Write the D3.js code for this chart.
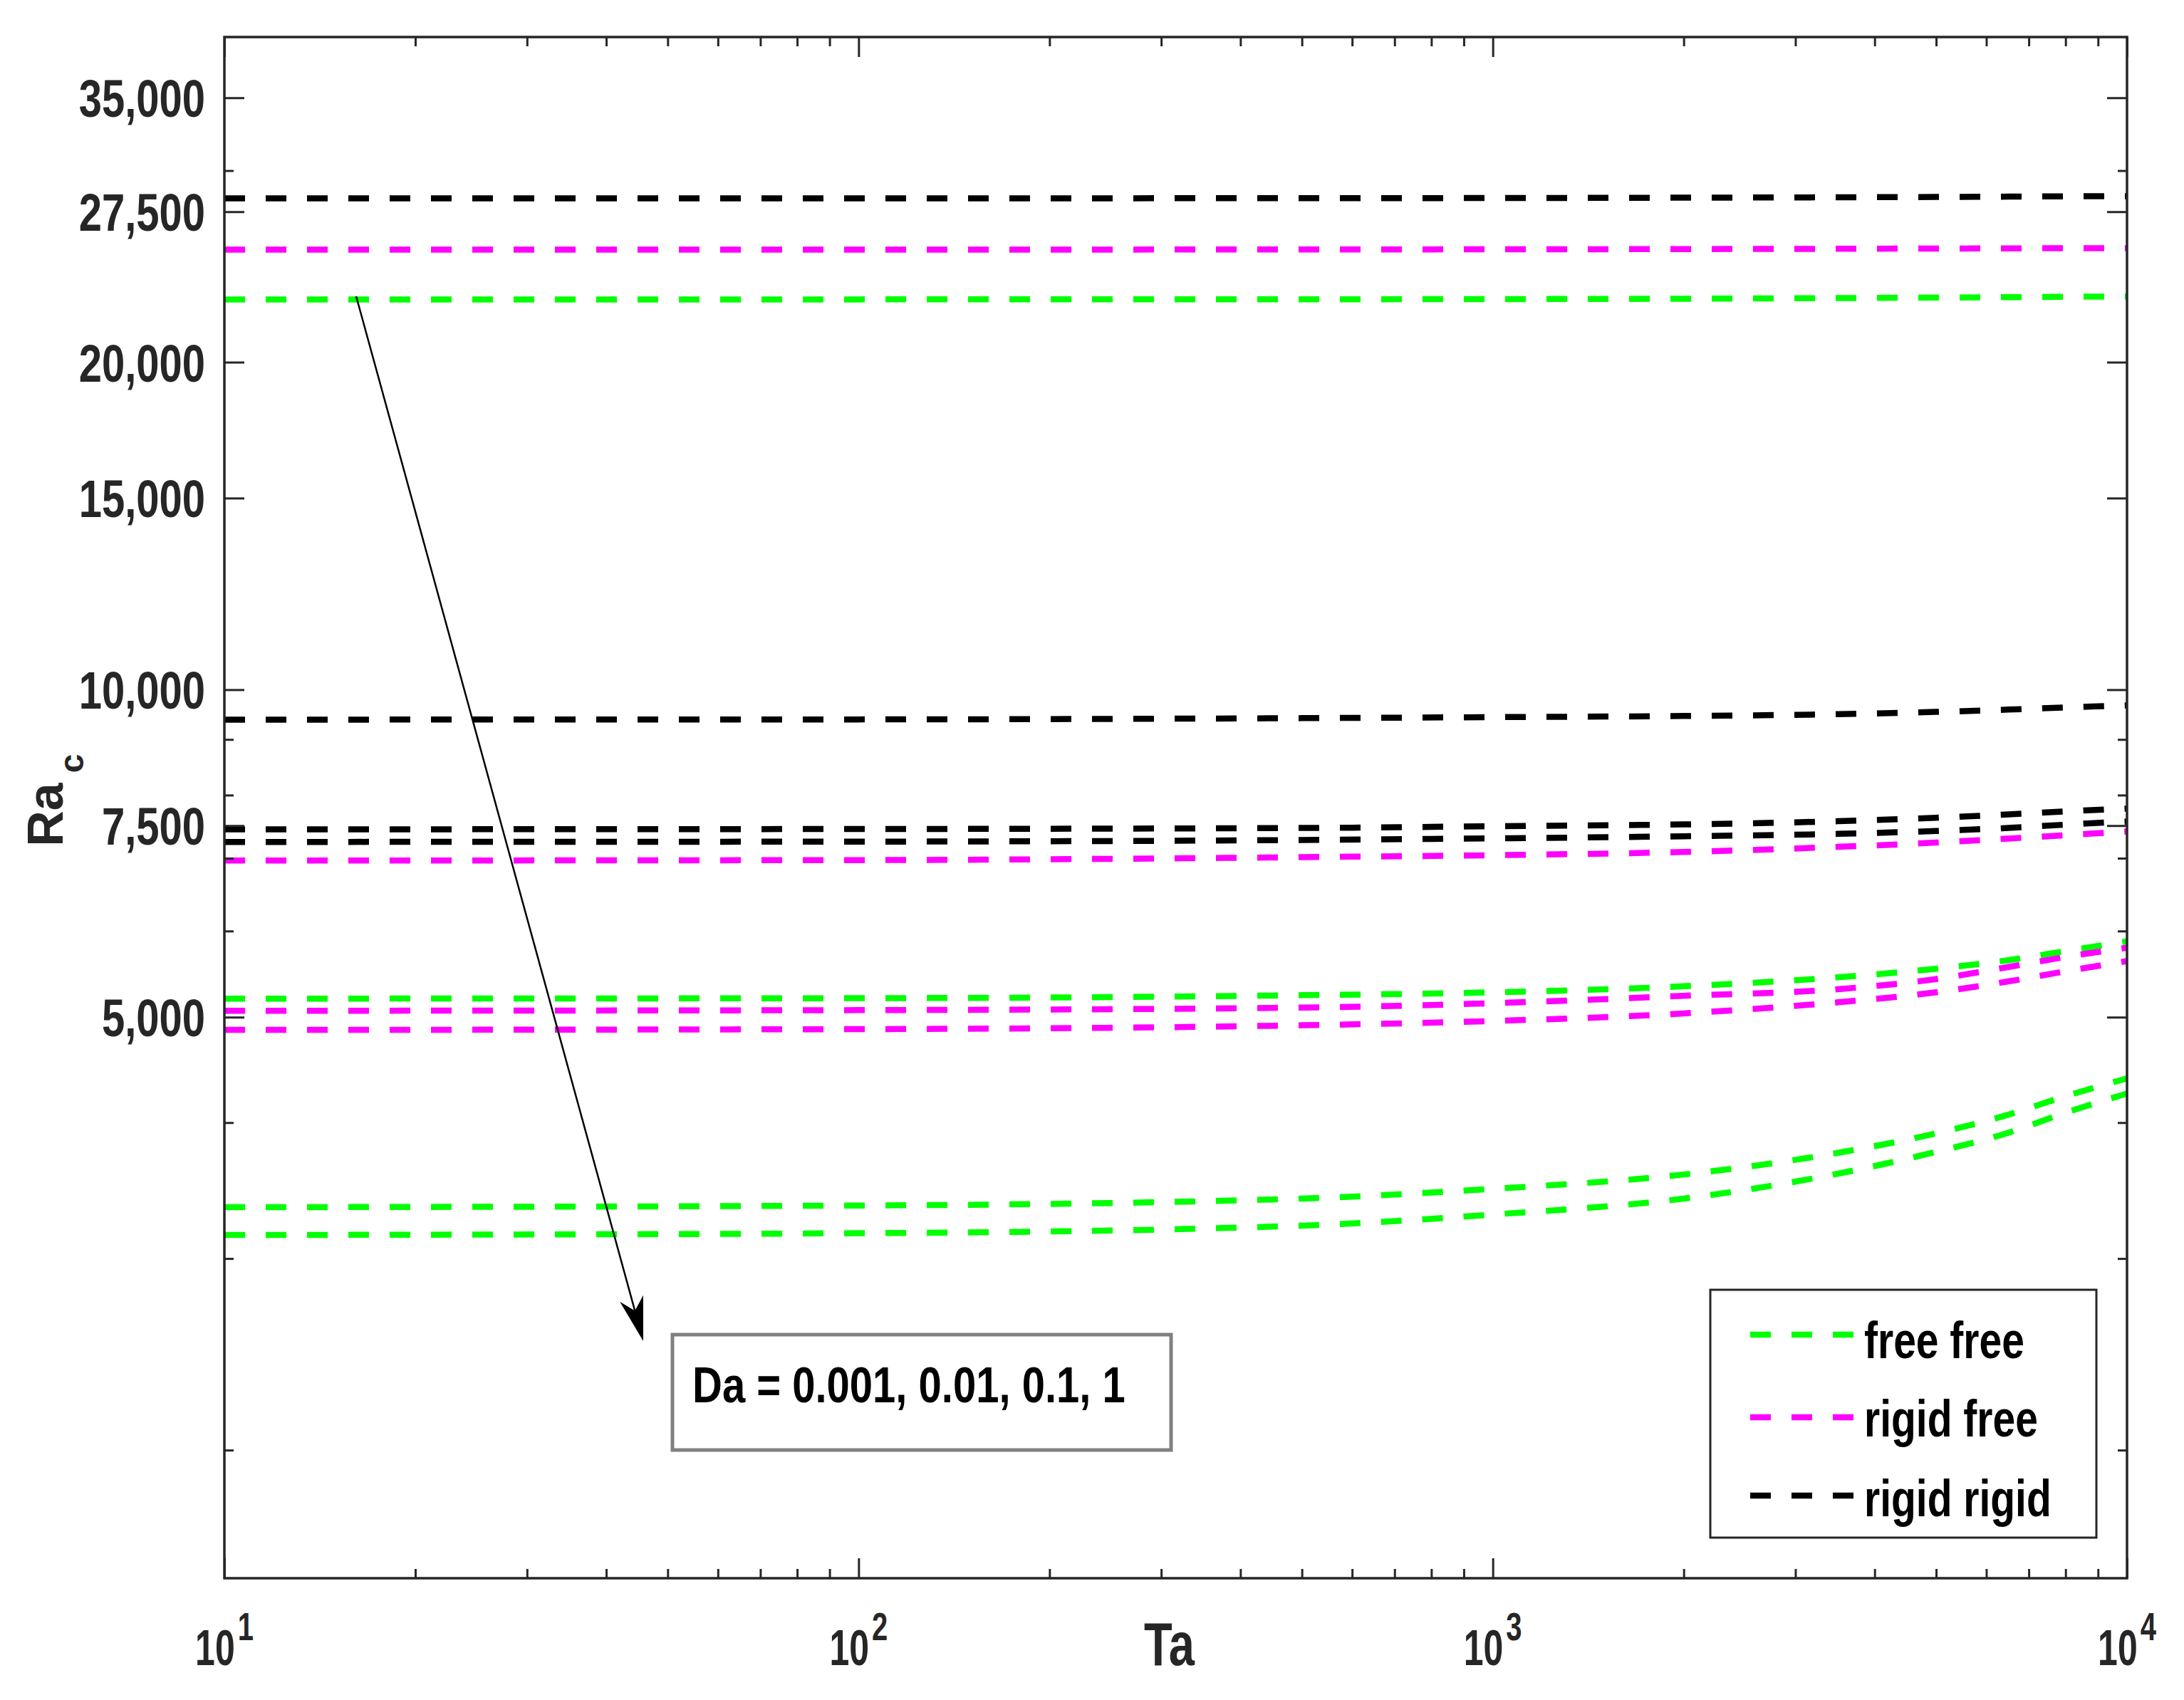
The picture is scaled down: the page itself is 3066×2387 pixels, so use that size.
<!DOCTYPE html>
<html><head><meta charset="utf-8">
<script src="https://cdn.jsdelivr.net/npm/d3@7"></script>
<style>html,body{margin:0;padding:0;background:#fff;} svg{display:block}</style>
</head><body>
<svg id="chart" width="3066" height="2387"></svg>
<script>
// ---------- data ----------
const taValues = [10, 100, 500, 1000, 2000, 3500, 5000, 6500, 8000, 10000];
const daValues = ["0.001", "0.01", "0.1", "1"];
// free free
const ffDa0001 = [22840, 22842, 22848, 22856, 22875, 22905, 22930, 22950, 22968, 22980];
const ffDa001  = [5200, 5205, 5238, 5270, 5338, 5440, 5540, 5641, 5750, 5870];
const ffDa01   = [3344, 3356, 3406, 3477, 3584, 3752, 3910, 4068, 4230, 4392];
const ffDa1    = [3153, 3165, 3216, 3293, 3406, 3590, 3760, 3915, 4085, 4254];
// rigid free
const rfDa0001 = [25380, 25381, 25388, 25396, 25408, 25425, 25438, 25448, 25455, 25460];
const rfDa001  = [6965, 6972, 7015, 7045, 7093, 7170, 7235, 7297, 7350, 7408];
const rfDa01   = [5068, 5075, 5103, 5150, 5231, 5305, 5420, 5560, 5680, 5792];
const rfDa1    = [4867, 4875, 4915, 4960, 5040, 5160, 5270, 5393, 5510, 5630];
// rigid rigid
const rrDa0001 = [28290, 28291, 28298, 28308, 28328, 28352, 28372, 28392, 28408, 28420];
const rrDa001  = [9386, 9390, 9415, 9435, 9458, 9495, 9540, 9587, 9630, 9674];
const rrDa01   = [7441, 7446, 7462, 7490, 7519, 7570, 7625, 7680, 7730, 7774];
const rrDa1    = [7245, 7250, 7275, 7300, 7332, 7370, 7415, 7463, 7515, 7565];

const boundaryNames = ["free free", "rigid free", "rigid rigid"];
const boundaryColors = ["#00ff00", "#ff00ff", "#000000"];
const yTickValues = [5000, 7500, 10000, 15000, 20000, 27500, 35000];
const yMinorTicks = [2000, 3000, 4000, 6000, 7000, 8000, 9000, 30000];
const xTickValues = [10, 100, 1000, 10000];
const xTickExponents = ["1", "2", "3", "4"];
const xLabel = "Ta";
const yLabelMain = "Ra";
const yLabelSub = "c";
const annotationText = "Da = 0.001, 0.01, 0.1, 1";

const seriesTable = [
  {bc: 0, vals: [ffDa0001, ffDa001, ffDa01, ffDa1]},
  {bc: 1, vals: [rfDa0001, rfDa001, rfDa01, rfDa1]},
  {bc: 2, vals: [rrDa0001, rrDa001, rrDa01, rrDa1]}
];

// ---------- layout ----------
const L = 315, R = 2986, T = 52, B = 2216;
const FONT = "'Liberation Sans', Arial, Helvetica, sans-serif";
const AX = "#262626";

const svg = d3.select("#chart");
svg.append("rect").attr("width", 3066).attr("height", 2387).attr("fill", "#fff");

const x = d3.scaleLog().domain([10, 10000]).range([L, R]);
const y = d3.scaleLog().domain([1525, 39800]).range([B, T]);

const xMinor = [];
[10, 100, 1000].forEach(d => { for (let k = 2; k <= 9; k++) xMinor.push(d * k); });

// ---------- lines ----------
const line = d3.line().x(d => x(d[0])).y(d => y(d[1])).curve(d3.curveMonotoneX);
const gLines = svg.append("g");
seriesTable.forEach(s => {
  s.vals.forEach(arr => {
    gLines.append("path")
      .datum(taValues.map((t, i) => [t, arr[i]]))
      .attr("d", line)
      .attr("fill", "none")
      .attr("stroke", boundaryColors[s.bc])
      .attr("stroke-width", 8.5)
      .attr("stroke-dasharray", "29,29");
  });
});

// ---------- axes (ticks inward) ----------
function tickAxis(gen, scale, vals, size, tr) {
  const g = svg.append("g").attr("transform", tr)
    .call(gen(scale).tickValues(vals).tickSize(size).tickSizeOuter(0).tickFormat(""));
  g.select(".domain").remove();
  g.selectAll(".tick line").attr("stroke", AX).attr("stroke-width", 3);
  return g;
}
// bottom & top
tickAxis(d3.axisBottom, x, xTickValues, -28, `translate(0,${B})`);
tickAxis(d3.axisBottom, x, xMinor, -13, `translate(0,${B})`);
tickAxis(d3.axisTop, x, xTickValues, -28, `translate(0,${T})`);
tickAxis(d3.axisTop, x, xMinor, -13, `translate(0,${T})`);
// left & right
tickAxis(d3.axisLeft, y, yTickValues, -28, `translate(${L},0)`);
tickAxis(d3.axisLeft, y, yMinorTicks, -13, `translate(${L},0)`);
tickAxis(d3.axisRight, y, yTickValues, -28, `translate(${R},0)`);
tickAxis(d3.axisRight, y, yMinorTicks, -13, `translate(${R},0)`);

// frame
svg.append("rect").attr("x", L).attr("y", T).attr("width", R - L).attr("height", B - T)
  .attr("fill", "none").attr("stroke", AX).attr("stroke-width", 3.5);

// ---------- tick labels ----------
const fmt = d3.format(",");
yTickValues.forEach(v => {
  svg.append("text")
    .attr("transform", `translate(288,${y(v) + 27}) scale(1,1.27)`)
    .attr("text-anchor", "end")
    .attr("font-family", FONT).attr("font-weight", "bold").attr("font-size", 58)
    .attr("fill", AX).text(fmt(v));
});
xTickValues.forEach((v, i) => {
  const t = svg.append("text")
    .attr("transform", `translate(${x(v)},2338) scale(1,1.4)`)
    .attr("text-anchor", "middle")
    .attr("font-family", FONT).attr("font-weight", "bold").attr("fill", AX);
  t.append("tspan").attr("font-size", 50).text("10");
  t.append("tspan").attr("font-size", 40).attr("dx", 4).attr("dy", -25).text(xTickExponents[i]);
});

// axis labels
svg.append("text")
  .attr("transform", `translate(${(L + R) / 2 - 9},2338) scale(1,1.3)`)
  .attr("text-anchor", "middle")
  .attr("font-family", FONT).attr("font-weight", "bold").attr("font-size", 65)
  .attr("fill", AX).text(xLabel);
svg.append("text")
  .attr("transform", "translate(88,1144) rotate(-90)")
  .attr("text-anchor", "middle")
  .attr("font-family", FONT).attr("font-weight", "bold").attr("font-size", 70)
  .attr("fill", AX).text(yLabelMain);
svg.append("text")
  .attr("transform", "translate(117,1072) rotate(-90)")
  .attr("text-anchor", "middle")
  .attr("font-family", FONT).attr("font-weight", "bold").attr("font-size", 48)
  .attr("fill", AX).text(yLabelSub);

// ---------- annotation arrow ----------
const ax0 = 500, ay0 = 416, ax1 = 903, ay1 = 1883;
const len = Math.hypot(ax1 - ax0, ay1 - ay0);
const ux = (ax1 - ax0) / len, uy = (ay1 - ay0) / len;
const nx = -uy, ny = ux;
const HL = 62, HW = 17, notch = 44;
svg.append("line").attr("x1", ax0).attr("y1", ay0)
  .attr("x2", ax1 - notch * ux).attr("y2", ay1 - notch * uy)
  .attr("stroke", "#000").attr("stroke-width", 2.5);
svg.append("polygon")
  .attr("points", [
    [ax1, ay1],
    [ax1 - HL * ux + HW * nx, ay1 - HL * uy + HW * ny],
    [ax1 - notch * ux, ay1 - notch * uy],
    [ax1 - HL * ux - HW * nx, ay1 - HL * uy - HW * ny]
  ].map(p => p.join(",")).join(" "))
  .attr("fill", "#000");

// annotation box
svg.append("rect").attr("x", 944).attr("y", 1874).attr("width", 700).attr("height", 162)
  .attr("fill", "none").attr("stroke", "#808080").attr("stroke-width", 5);
svg.append("text")
  .attr("transform", "translate(972,1969) scale(1,1.22)")
  .attr("font-family", FONT).attr("font-weight", "bold").attr("font-size", 58)
  .attr("fill", "#000").text(annotationText);

// ---------- legend ----------
svg.append("rect").attr("x", 2401).attr("y", 1811).attr("width", 542).attr("height", 348)
  .attr("fill", "#fff").attr("stroke", AX).attr("stroke-width", 3);
const legY = [1874, 1990, 2100];
const legTextY = [1907, 2017, 2129];
boundaryNames.forEach((name, i) => {
  svg.append("line").attr("x1", 2457).attr("x2", 2602)
    .attr("y1", legY[i]).attr("y2", legY[i])
    .attr("stroke", boundaryColors[i]).attr("stroke-width", 8.5)
    .attr("stroke-dasharray", "29,29");
  svg.append("text")
    .attr("transform", `translate(2617,${legTextY[i]}) scale(1,1.28)`)
    .attr("font-family", FONT).attr("font-weight", "bold").attr("font-size", 57)
    .attr("fill", "#000").text(name);
});
</script>
</body></html>
